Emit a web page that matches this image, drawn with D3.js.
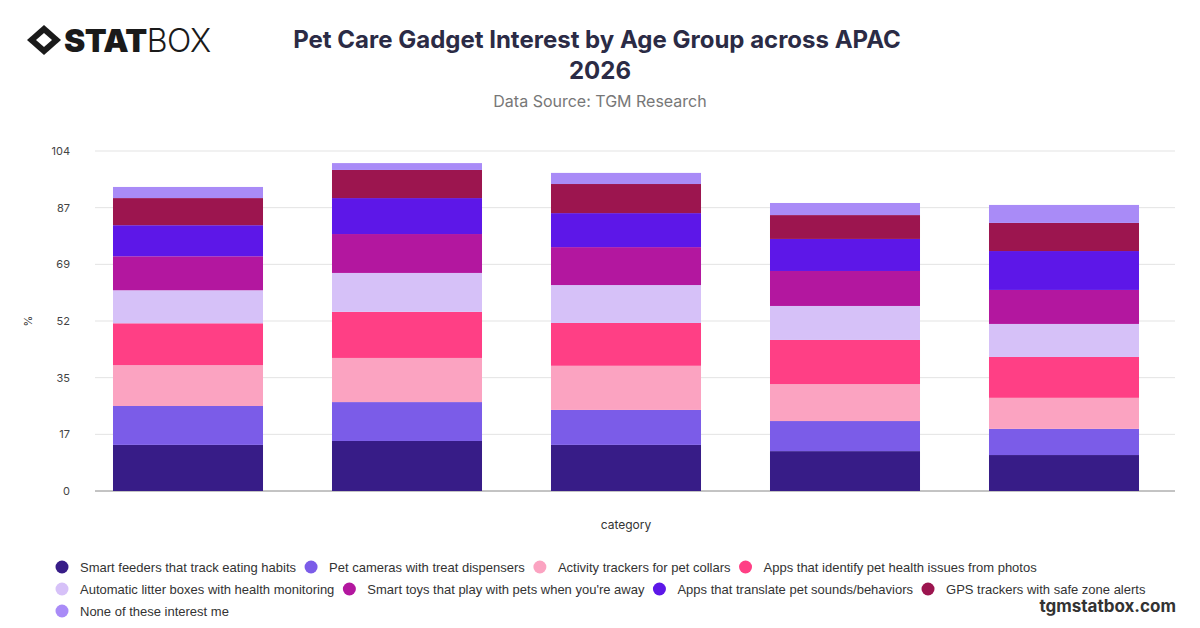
<!DOCTYPE html>
<html><head><meta charset="utf-8">
<script src="https://cdn.jsdelivr.net/npm/d3@7"></script>
<style>body{margin:0;background:#fff;font-family:Inter,"Open Sans",sans-serif}</style>
</head><body><svg id="chart"></svg>
<script>
// Data
const categories = ["18-24", "25-34", "35-44", "45-54", "55+"];
const seriesNames = ["Smart feeders that track eating habits", "Pet cameras with treat dispensers", "Activity trackers for pet collars", "Apps that identify pet health issues from photos", "Automatic litter boxes with health monitoring", "Smart toys that play with pets when you're away", "Apps that translate pet sounds/behaviors", "GPS trackers with safe zone alerts", "None of these interest me"];
const COLORS = ["#371c87", "#7b5ce8", "#fba3c1", "#ff3f85", "#d6c1f8", "#b3179f", "#5d17e8", "#9c154f", "#a98bf7"];
const values = [
  [14.1, 11.9, 12.5, 12.8, 10.1, 10.4, 9.5, 8.3, 3.4],
  [15.3, 11.9, 13.5, 14.1, 11.9, 11.9, 11.0, 8.6, 2.1],
  [14.1, 10.7, 13.5, 13.1, 11.6, 11.6, 10.4, 8.9, 3.4],
  [12.2, 9.2, 11.3, 13.5, 10.4, 10.7, 9.8, 7.3, 3.7],
  [11.0, 8.0, 9.5, 12.5, 10.1, 10.4, 11.9, 8.6, 5.5]
];
const Y_MAX = 104;

const WIDTH = 1200, HEIGHT = 628;
const M = {left: 95, right: 25, top: 151, bottom: 137};
const svg = d3.select("#chart").attr("width", WIDTH).attr("height", HEIGHT);

const x = d3.scaleBand().domain(categories).range([78.5, 1173.5]).paddingInner(0.315).paddingOuter(0.1575);
const y = d3.scaleLinear().domain([0, Y_MAX]).range([HEIGHT - M.bottom, M.top]);

// Grid + y labels
const ticks = d3.range(0, 7).map(i => i * Y_MAX / 6);
svg.selectAll(".grid").data(ticks).enter().append("line")
  .attr("x1", M.left).attr("x2", WIDTH - M.right)
  .attr("y1", d => y(d)).attr("y2", d => y(d))
  .attr("stroke", d => d === 0 ? "#888" : "#e3e3e3");
svg.selectAll(".ytick").data(ticks).enter().append("text")
  .attr("x", 70).attr("y", d => y(d) + 4).attr("text-anchor", "end")
  .attr("font-size", 11).attr("fill", "#444").text(d => Math.round(d));

// Stacked bars
const rows = categories.map((c, i) => { const r = {cat: c}; seriesNames.forEach((s, j) => r[s] = values[i][j]); return r; });
const stacked = d3.stack().keys(seriesNames)(rows);
svg.selectAll(".layer").data(stacked).enter().append("g")
  .attr("fill", (d, i) => COLORS[i])
  .selectAll("rect").data(d => d).enter().append("rect")
  .attr("x", d => x(d.data.cat)).attr("width", x.bandwidth())
  .attr("y", d => y(d[1])).attr("height", d => y(d[0]) - y(d[1]));

// Axis titles
svg.append("text").attr("x", 626).attr("y", 529).attr("text-anchor", "middle").attr("font-size", 12).attr("fill", "#333").text("category");
svg.append("text").attr("transform", "translate(32,321) rotate(-90)").attr("text-anchor", "middle").attr("font-size", 11).attr("fill", "#333").text("%");

// Title
svg.append("text").attr("x", 597).attr("y", 48).attr("text-anchor", "middle").attr("font-size", 24).attr("font-weight", 700).attr("fill", "#2b2b45").text("Pet Care Gadget Interest by Age Group across APAC");
svg.append("text").attr("x", 600).attr("y", 79).attr("text-anchor", "middle").attr("font-size", 24).attr("font-weight", 700).attr("fill", "#2b2b45").text("2026");
svg.append("text").attr("x", 600).attr("y", 107).attr("text-anchor", "middle").attr("font-size", 16).attr("fill", "#777").text("Data Source: TGM Research");

// Logo
const logo = svg.append("g").attr("transform", "translate(44,40)");
logo.append("path").attr("d", "M-17,0 L0,-15 L17,0 L0,15 Z").attr("fill", "#1a1a1a");
logo.append("path").attr("d", "M-8,0 L0,-7 L8,0 L0,7 Z").attr("fill", "#fff");
svg.append("text").attr("x", 64).attr("y", 52).attr("font-size", 32).attr("font-weight", 900).attr("fill", "#1a1a1a").attr("letter-spacing", -0.5)
  .text("STAT").append("tspan").attr("font-weight", 300).text("BOX");

// Legend (flow layout, 4 per row)
let lx = 62;
seriesNames.forEach((s, i) => {
  const ly = 567 + Math.floor(i / 4) * 22;
  if (i % 4 === 0) lx = 62;
  svg.append("circle").attr("cx", lx).attr("cy", ly).attr("r", 6.5).attr("fill", COLORS[i]);
  const t = svg.append("text").attr("x", lx + 18).attr("y", ly + 5).attr("font-size", 13)
    .attr("font-family", "'Liberation Sans', Arial, sans-serif").attr("fill", "#333").text(s);
  lx = lx + 18 + t.node().getComputedTextLength() + 15;
});

svg.append("text").attr("x", 1176).attr("y", 612).attr("text-anchor", "end").attr("font-size", 17).attr("font-weight", 700).attr("fill", "#333").text("tgmstatbox.com");
</script></body></html>
